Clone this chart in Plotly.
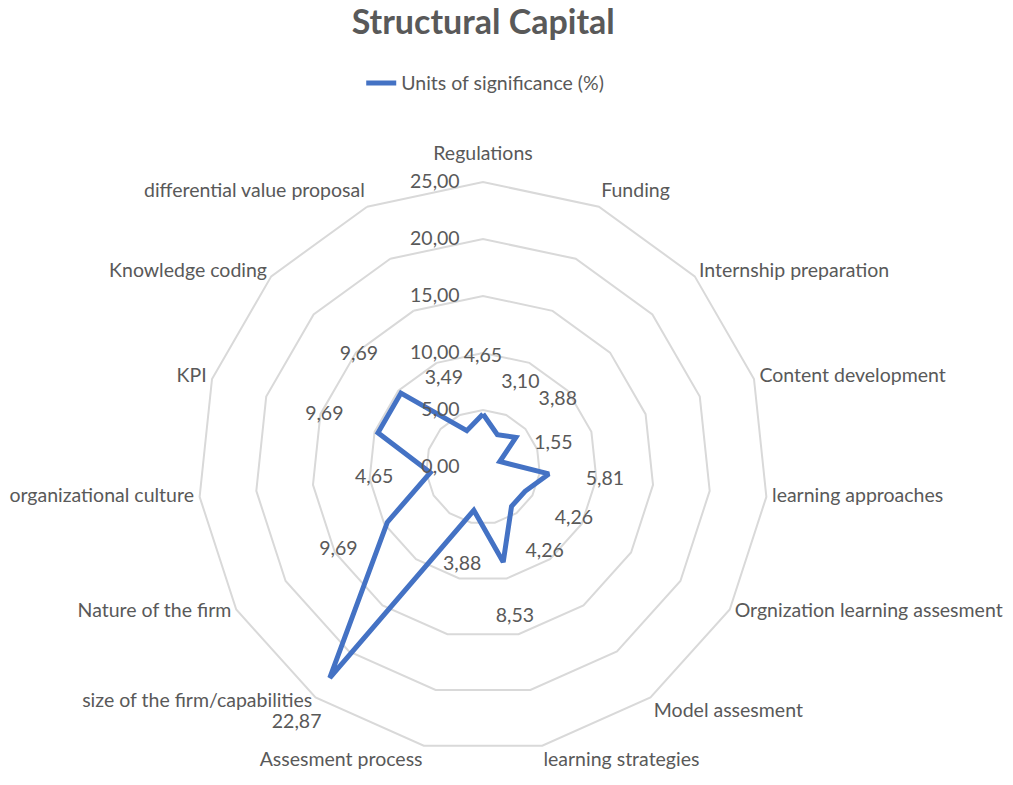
import plotly.graph_objects as go

categories = ["Regulations", "Funding", "Internship preparation", "Content development",
              "learning approaches", "Orgnization learning assesment", "Model assesment",
              "learning strategies", "Assesment process", "size of the firm/capabilities",
              "Nature of the firm", "organizational culture", "KPI", "Knowledge coding",
              "differential value proposal"]
values = [4.65, 3.10, 3.88, 1.55, 5.81, 4.26, 4.26, 8.53, 3.88, 22.87,
          9.69, 4.65, 9.69, 9.69, 3.49]
radial_ticks = [0, 5, 10, 15, 20, 25]
series_name = "Units of significance (%)"

grey = "#595959"
blue = "#4472C4"
font_family = "Lato, 'Open Sans', sans-serif"
fs = 19.5

# where each category label sits around its spoke (excel style, left/right aligned)
cat_positions = ["top center", "top right", "middle right", "middle right", "middle right",
                 "middle right", "bottom right", "bottom right", "bottom left", "middle left",
                 "middle left", "middle left", "middle left", "middle left", "top left"]
cat_pad = [1.5] + [0.5] * 14

# polar drops points past the range, so leave head room above the last ring for labels
r_max = 27.9

fig = go.Figure()

# the series, closed loop
fig.add_trace(go.Scatterpolar(
    r=values + values[:1],
    theta=categories + categories[:1],
    mode="lines",
    line=dict(color=blue, width=5),
    name=series_name,
))

# data labels pushed outward a bit like excel does
label_offset = 4.95
fig.add_trace(go.Scatterpolar(
    r=[v + label_offset for v in values],
    theta=categories,
    mode="text",
    text=[f"{v:.2f}".replace(".", ",") for v in values],
    textfont=dict(size=fs, color=grey, family=font_family),
    cliponaxis=False,
    showlegend=False,
    hoverinfo="skip",
))

# category labels, drawn as text so they can be anchored like excel's
fig.add_trace(go.Scatterpolar(
    r=[radial_ticks[-1] + p for p in cat_pad],
    theta=categories,
    mode="text",
    text=categories,
    textposition=cat_positions,
    textfont=dict(size=fs, color=grey, family=font_family),
    cliponaxis=False,
    showlegend=False,
    hoverinfo="skip",
))

fig.update_layout(
    width=1013, height=785,
    margin=dict(l=0, r=0, t=0, b=0),
    paper_bgcolor="white",
    plot_bgcolor="white",
    separators=",.",
    font=dict(family=font_family, color=grey, size=fs),
    title=dict(text="<b>Structural Capital</b>", x=0.477, xanchor="center",
               y=0.972, yanchor="middle",
               font=dict(size=34, color=grey, family=font_family)),
    legend=dict(orientation="h", x=0.479, xanchor="center", y=0.894, yanchor="middle",
                font=dict(size=fs, color=grey)),
    polar=dict(
        domain=dict(x=[0.1629, 0.7907], y=[0.0, 0.8102]),
        bgcolor="white",
        gridshape="linear",
        radialaxis=dict(
            range=[0, r_max],
            tickvals=radial_ticks,
            tickformat=".2f",
            angle=90,
            tickangle=90,
            side="counterclockwise",
            showline=False,
            ticks="outside",
            ticklen=16,
            tickcolor="rgba(0,0,0,0)",
            gridcolor="#D9D9D9",
            gridwidth=1.5,
            tickfont=dict(size=fs, color=grey),
        ),
        angularaxis=dict(
            direction="clockwise",
            rotation=90,
            showgrid=False,
            showline=False,
            showticklabels=False,
            ticks="",
        ),
    ),
)

# page body has a default 8px margin, drop it so the figure sits at 0,0
fig.write_html("out.html", config={"displayModeBar": False},
               post_script="document.body.style.margin='0';")
